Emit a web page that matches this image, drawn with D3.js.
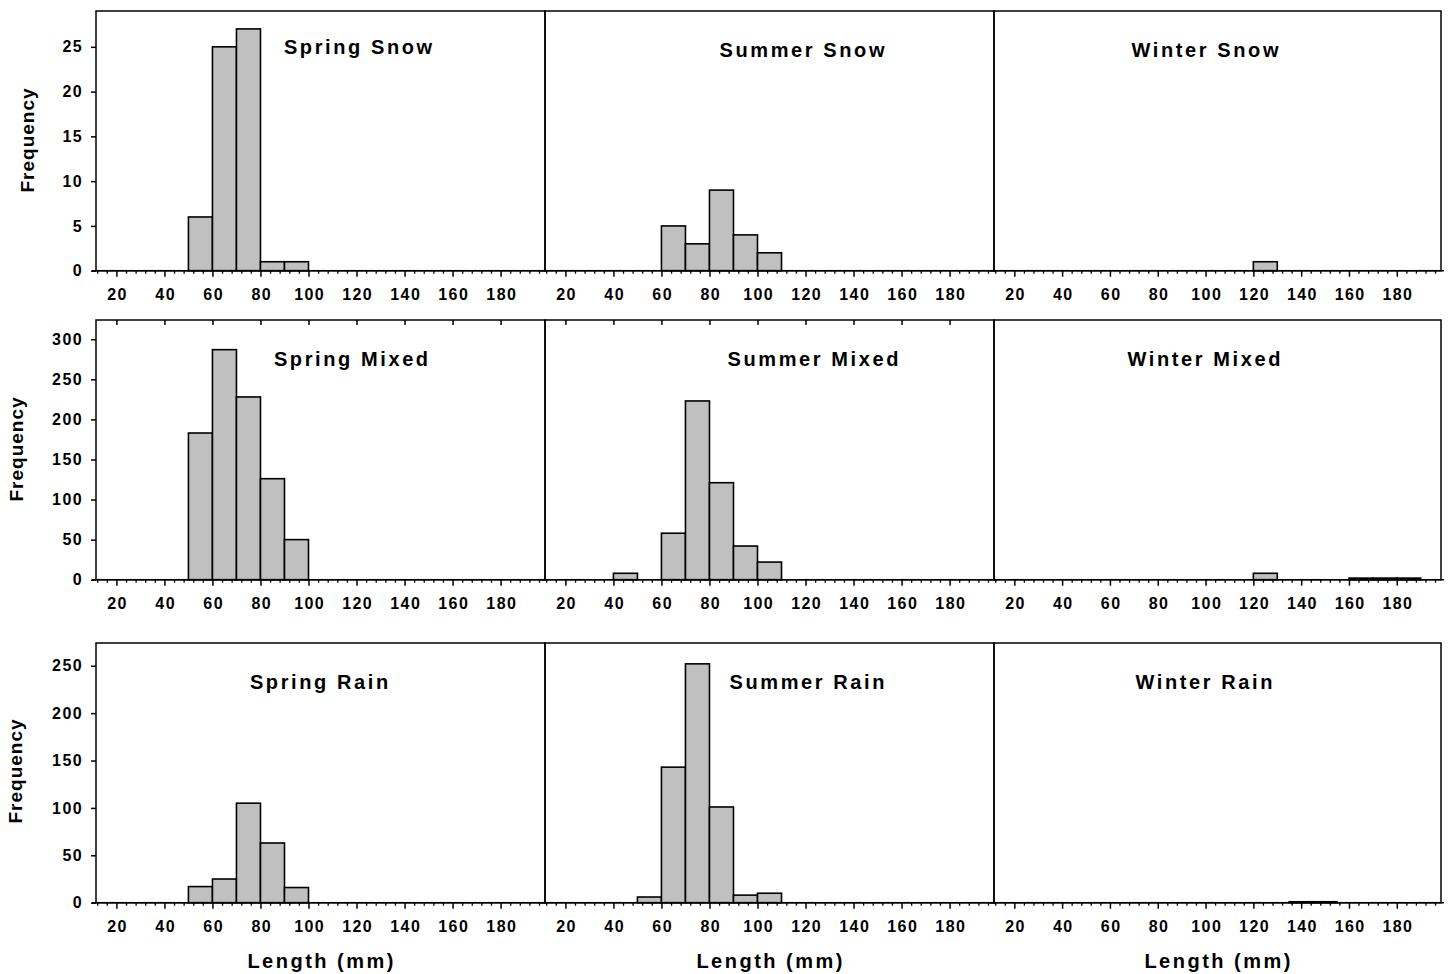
<!DOCTYPE html>
<html>
<head>
<meta charset="utf-8">
<script src="https://cdn.jsdelivr.net/npm/d3@7"></script>
<style>
  body { margin: 0; background: #fff; }
  svg text { font-family: "Liberation Sans", Arial, sans-serif; font-weight: bold; fill: #000; }
  .tick text { font-size: 16px; letter-spacing: 1.4px; }
  .title { font-size: 20px; letter-spacing: 2.6px; }
  .ylab { font-size: 19px; letter-spacing: 1px; }
  .xlab { font-size: 20px; letter-spacing: 2.5px; }
</style>
</head>
<body>
<svg id="chart" width="1449" height="974"></svg>
<script>
// histogram bins, 10 mm wide: [bin start, count]
const springSnow  = [[50, 6], [60, 25], [70, 27], [80, 1], [90, 1]];
const summerSnow  = [[60, 5], [70, 3], [80, 9], [90, 4], [100, 2]];
const winterSnow  = [[120, 1]];
const springMixed = [[50, 183], [60, 287], [70, 228], [80, 126], [90, 50]];
const summerMixed = [[40, 8], [60, 58], [70, 223], [80, 121], [90, 42], [100, 22]];
const winterMixed = [[120, 8], [160, 2], [170, 2], [180, 2]];
const springRain  = [[50, 17], [60, 25], [70, 105], [80, 63], [90, 16]];
const summerRain  = [[50, 6], [60, 143], [70, 252], [80, 101], [90, 8], [100, 10]];
const winterRain  = [[135, 1], [145, 1]];

const titles = [
  ["Spring Snow", "Summer Snow", "Winter Snow"],
  ["Spring Mixed", "Summer Mixed", "Winter Mixed"],
  ["Spring Rain", "Summer Rain", "Winter Rain"]
];
const xTicks = [20, 40, 60, 80, 100, 120, 140, 160, 180];
const yTicksSnow  = [0, 5, 10, 15, 20, 25];
const yTicksMixed = [0, 50, 100, 150, 200, 250, 300];
const yTicksRain  = [0, 50, 100, 150, 200, 250];
const yMax = [29, 324, 274];
const binWidth = 10;

const rows = [
  [springSnow, summerSnow, winterSnow],
  [springMixed, summerMixed, winterMixed],
  [springRain, summerRain, winterRain]
];
const rowTicks = [yTicksSnow, yTicksMixed, yTicksRain];

// layout
const colX = [96, 545, 994];
const colW = [449, 449, 447];
const rowY = [11, 320, 643];
const panelH = 259.7;
// title centre (x) and baseline (y), page coords
const titlePos = [
  [[358, 54], [802, 57], [1205, 57]],
  [[351, 366], [813, 366], [1204, 366]],
  [[319, 689], [807, 689], [1204, 689]]
];
const freqPos = [[34, 140], [22.5, 449], [22, 771]];

const svg = d3.select("#chart");
const minorTicks = d3.range(12, 199, 4).filter(v => v % 20 !== 0);

rows.forEach((row, r) => {
  const y = d3.scaleLinear().domain([0, yMax[r]]).range([panelH, 0]);

  row.forEach((bins, c) => {
    const w = colW[c];
    const x = d3.scaleLinear().domain([11.5, 198.5]).range([0, w]);
    const g = svg.append("g").attr("transform", `translate(${colX[c]},${rowY[r]})`);

    g.selectAll(".bar").data(bins).enter().append("rect")
      .attr("class", "bar")
      .attr("x", d => x(d[0]))
      .attr("width", d => x(d[0] + binWidth) - x(d[0]))
      .attr("y", d => y(d[1]))
      .attr("height", d => panelH - y(d[1]))
      .attr("fill", "#c0c0c0").attr("stroke", "#000").attr("stroke-width", 1.6);

    // minor ticks
    g.append("g").attr("transform", `translate(0,${panelH})`)
      .call(d3.axisBottom(x).tickValues(minorTicks).tickSize(3).tickSizeOuter(0).tickFormat(""))
      .call(a => a.select(".domain").remove())
      .selectAll("line").attr("stroke-width", 1.3);

    // major ticks
    const gx = g.append("g").attr("transform", `translate(0,${panelH})`)
      .attr("font-size", null).attr("font-family", null)
      .call(d3.axisBottom(x).tickValues(xTicks).tickSize(6).tickSizeOuter(0).tickPadding(12));
    gx.select(".domain").remove();
    gx.selectAll("line").attr("stroke-width", 1.5);
    gx.selectAll("text").attr("dx", "0.7px");

    // axis line runs a little past the frame
    g.append("line").attr("x1", -4).attr("x2", w + 3)
      .attr("y1", panelH).attr("y2", panelH)
      .attr("stroke", "#000").attr("stroke-width", 1.5);

    if (r === 1 && c < 2) {
      g.append("g")
        .call(d3.axisTop(x).tickValues(xTicks).tickSize(-5).tickSizeOuter(0).tickFormat(""))
        .call(a => a.select(".domain").remove())
        .selectAll("line").attr("stroke-width", 1.5);
    }

    if (c === 0) {
      const gy = g.append("g")
        .attr("font-size", null).attr("font-family", null)
        .call(d3.axisLeft(y).tickValues(rowTicks[r]).tickSize(5).tickSizeOuter(0).tickPadding(8));
      gy.select(".domain").remove();
      gy.selectAll("line").attr("stroke-width", 1.5);
    }

    g.append("rect").attr("width", w).attr("height", panelH)
      .attr("fill", "none").attr("stroke", "#000").attr("stroke-width", 1.5);

    const tp = titlePos[r][c];
    svg.append("text").attr("class", "title")
      .attr("x", tp[0] + 1.3).attr("y", tp[1])
      .attr("text-anchor", "middle")
      .text(titles[r][c]);

    if (r === 2) {
      svg.append("text").attr("class", "xlab")
        .attr("x", colX[c] + w / 2 + 1.2).attr("y", 968)
        .attr("text-anchor", "middle")
        .text("Length (mm)");
    }
  });

  svg.append("text").attr("class", "ylab")
    .attr("transform", `translate(${freqPos[r][0]},${freqPos[r][1]}) rotate(-90)`)
    .attr("text-anchor", "middle")
    .text("Frequency");
});
</script>
</body>
</html>
